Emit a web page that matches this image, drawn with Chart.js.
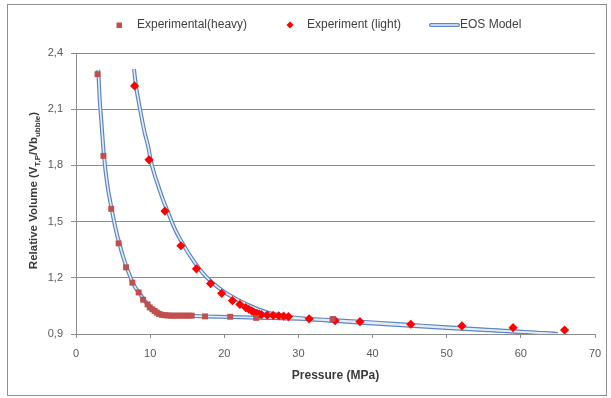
<!DOCTYPE html>
<html>
<head>
<meta charset="utf-8">
<script src="https://cdn.jsdelivr.net/npm/chart.js@4.4.1/dist/chart.umd.min.js"></script>
<style>
  html, body { margin: 0; padding: 0; background: #ffffff; }
  canvas { display: block; }
</style>
</head>
<body>
<canvas id="chart" width="611" height="398"></canvas>
<script>
// Measured relative volume, heavy sample
const heavyPressure = [2.9, 3.7, 4.75, 5.75, 6.75, 7.6, 8.45, 9.05, 9.65, 9.95, 10.3, 10.6, 10.9, 11.2,
  11.6, 12.0, 12.4, 12.8, 13.2, 13.6, 14.0, 14.4, 14.8, 15.2, 15.6, 17.4, 20.8, 24.3, 34.6];
const heavyVolume = [2.287, 1.851, 1.568, 1.384, 1.256, 1.174, 1.122, 1.083, 1.058, 1.042, 1.032, 1.023, 1.014, 1.007,
  1.002, 1.0, 0.999, 0.998, 0.998, 0.998, 0.998, 0.998, 0.998, 0.998, 0.998, 0.994, 0.992, 0.986, 0.980];

// Measured relative volume, light sample
const lightPressure = [7.9, 9.85, 12.0, 14.15, 16.25, 18.15, 19.65, 21.1, 22.1, 22.9, 23.3, 23.7, 24.0, 24.4,
  24.7, 25.0, 25.8, 26.6, 27.35, 28.0, 28.65, 31.45, 34.95, 38.3, 45.15, 52.05, 58.95, 65.9];
const lightVolume = [2.224, 1.830, 1.556, 1.371, 1.248, 1.169, 1.117, 1.078, 1.058, 1.041, 1.032, 1.023, 1.016, 1.010,
  1.006, 1.003, 1.001, 0.999, 0.997, 0.995, 0.993, 0.981, 0.971, 0.966, 0.952, 0.943, 0.934, 0.921];

// EOS model curve, heavy sample
const eosHeavyPressure = [3.0, 3.2, 3.41, 3.77, 4.25, 4.81, 5.3, 5.84, 6.3, 6.83, 7.25, 7.64, 8.05, 8.49, 9.16,
  9.7, 10.3, 11.0, 11.8, 13, 15, 17.5, 20.8, 24.3, 27, 30, 35, 40, 45, 50, 55, 60, 65];
const eosHeavyVolume = [2.31, 2.15, 2.04, 1.851, 1.69, 1.568, 1.47, 1.384, 1.32, 1.256, 1.212, 1.174, 1.145, 1.122, 1.083,
  1.058, 1.035, 1.018, 1.007, 1.0, 0.997, 0.994, 0.991, 0.987, 0.985, 0.982, 0.973, 0.962, 0.949, 0.936, 0.924, 0.912, 0.900];

// EOS model curve, light sample
const eosLightPressure = [7.82, 8.09, 8.5, 8.9, 9.3, 9.75, 10.06, 10.6, 11.1, 11.7, 12.35, 13.4, 14.56, 15.6, 16.6,
  17.6, 18.6, 19.4, 20.2, 21.3, 22.4, 23.5, 24.7, 26.0, 27.5, 29.0, 31, 35, 40, 45, 50, 55, 60, 65];
const eosLightVolume = [2.313, 2.224, 2.13, 2.045, 1.968, 1.899, 1.83, 1.75, 1.69, 1.62, 1.556, 1.455, 1.371, 1.305, 1.250,
  1.204, 1.167, 1.142, 1.119, 1.094, 1.071, 1.050, 1.030, 1.012, 1.0, 0.99, 0.981, 0.969, 0.956, 0.944, 0.932, 0.921, 0.911, 0.900];

const xTickLabels = ['0', '10', '20', '30', '40', '50', '60', '70'];
const yTickLabels = ['0,9', '1,2', '1,5', '1,8', '2,1', '2,4'];
const seriesNames = ['Experimental(heavy)', 'Experiment (light)', 'EOS Model'];

const FONT = "'Liberation Sans', Arial, sans-serif";
const GRID = '#8c8c8c';
const TICK_TEXT = '#595959';
const TITLE_TEXT = '#3a3a3a';
const HEAVY = '#c0504d';
const LIGHT = '#ff0000';
const OUTLINE = '#5b86c3';
const CORE = '#e6edf7';

function pairs(xs, ys) {
  return xs.map((x, i) => ({ x: x, y: ys[i] }));
}

// Frame, legend row and the rotated y-axis title with subscripts
const decorations = {
  id: 'decorations',
  beforeDraw(chart) {
    const ctx = chart.ctx;
    ctx.save();
    ctx.fillStyle = '#ffffff';
    ctx.fillRect(0, 0, chart.width, chart.height);
    ctx.restore();
  },
  afterDraw(chart) {
    const ctx = chart.ctx;
    ctx.save();

    // outer frame
    ctx.strokeStyle = '#8e8e8e';
    ctx.lineWidth = 1;
    ctx.strokeRect(7.5, 4.5, 599, 391);

    // legend
    const ly = 25;
    ctx.font = '12px ' + FONT;
    ctx.textBaseline = 'middle';
    ctx.textAlign = 'left';

    ctx.fillStyle = HEAVY;
    ctx.fillRect(116.5, ly - 2.5, 5.5, 5.5);
    ctx.fillStyle = '#404040';
    ctx.fillText(seriesNames[0], 137, ly);

    ctx.fillStyle = LIGHT;
    ctx.beginPath();
    ctx.moveTo(290, ly - 3.5);
    ctx.lineTo(293.5, ly);
    ctx.lineTo(290, ly + 3.5);
    ctx.lineTo(286.5, ly);
    ctx.closePath();
    ctx.fill();
    ctx.fillStyle = '#404040';
    ctx.fillText(seriesNames[1], 307, ly);

    ctx.lineCap = 'round';
    ctx.strokeStyle = OUTLINE;
    ctx.lineWidth = 4;
    ctx.beginPath();
    ctx.moveTo(431, ly);
    ctx.lineTo(458, ly);
    ctx.stroke();
    ctx.strokeStyle = CORE;
    ctx.lineWidth = 1.6;
    ctx.beginPath();
    ctx.moveTo(431, ly);
    ctx.lineTo(458, ly);
    ctx.stroke();
    ctx.fillText(seriesNames[2], 460, ly);

    // y-axis title: Relative Volume (V_T,P / Vb_ubble)
    const area = chart.chartArea;
    const parts = [
      ['Relative Volume (V', false],
      ['T,P', true],
      ['/Vb', false],
      ['ubble', true],
      [')', false]
    ];
    const mainFont = 'bold 11.5px ' + FONT;
    const subFont = 'bold 8px ' + FONT;
    let total = 0;
    parts.forEach(p => {
      ctx.font = p[1] ? subFont : mainFont;
      total += ctx.measureText(p[0]).width;
    });
    ctx.translate(33, (area.top + area.bottom) / 2 - 3);
    ctx.rotate(-Math.PI / 2);
    ctx.fillStyle = TITLE_TEXT;
    ctx.textBaseline = 'alphabetic';
    let x = -total / 2;
    parts.forEach(p => {
      ctx.font = p[1] ? subFont : mainFont;
      ctx.fillText(p[0], x, p[1] ? 6.5 : 4);
      x += ctx.measureText(p[0]).width;
    });
    ctx.restore();
  }
};

new Chart(document.getElementById('chart'), {
  type: 'scatter',
  data: {
    datasets: [
      {
        label: seriesNames[0],
        data: pairs(heavyPressure, heavyVolume),
        pointStyle: 'rect',
        pointRadius: 4.2,
        pointBackgroundColor: HEAVY,
        pointBorderWidth: 0,
        order: 0
      },
      {
        label: seriesNames[1],
        data: pairs(lightPressure, lightVolume),
        pointStyle: 'rectRot',
        pointRadius: 4.6,
        pointBackgroundColor: LIGHT,
        pointBorderWidth: 0,
        order: 0
      },
      {
        label: seriesNames[2],
        data: pairs(eosHeavyPressure, eosHeavyVolume),
        showLine: true,
        pointRadius: 0,
        borderColor: OUTLINE,
        borderWidth: 4,
        cubicInterpolationMode: 'monotone',
        order: 2
      },
      {
        label: seriesNames[2],
        data: pairs(eosHeavyPressure, eosHeavyVolume),
        showLine: true,
        pointRadius: 0,
        borderColor: CORE,
        borderWidth: 1.6,
        cubicInterpolationMode: 'monotone',
        order: 1
      },
      {
        label: seriesNames[2],
        data: pairs(eosLightPressure, eosLightVolume),
        showLine: true,
        pointRadius: 0,
        borderColor: OUTLINE,
        borderWidth: 4,
        cubicInterpolationMode: 'monotone',
        order: 2
      },
      {
        label: seriesNames[2],
        data: pairs(eosLightPressure, eosLightVolume),
        showLine: true,
        pointRadius: 0,
        borderColor: CORE,
        borderWidth: 1.6,
        cubicInterpolationMode: 'monotone',
        order: 1
      }
    ]
  },
  options: {
    responsive: false,
    animation: false,
    devicePixelRatio: 1,
    layout: { padding: { top: 53, right: 16, bottom: 0, left: 0 } },
    plugins: {
      legend: { display: false },
      tooltip: { enabled: false }
    },
    scales: {
      x: {
        type: 'linear',
        min: 0,
        max: 70,
        afterFit(scale) { scale.height = 64; },
        ticks: {
          stepSize: 10,
          padding: 9,
          color: TICK_TEXT,
          font: { family: FONT, size: 11 },
          callback: (value, index) => xTickLabels[index]
        },
        grid: { display: true, drawOnChartArea: false, drawTicks: true, tickLength: 4, color: GRID },
        border: { display: true, color: GRID },
        title: {
          display: true,
          text: 'Pressure (MPa)',
          color: TITLE_TEXT,
          font: { family: FONT, size: 12, weight: 'bold' },
          padding: { top: 4, bottom: 15 }
        }
      },
      y: {
        type: 'linear',
        min: 0.9,
        max: 2.4,
        afterFit(scale) { scale.width = 76; },
        ticks: {
          stepSize: 0.3,
          padding: 8,
          color: TICK_TEXT,
          font: { family: FONT, size: 11 },
          callback: (value, index) => yTickLabels[index]
        },
        grid: { color: GRID, tickLength: 5 },
        border: { display: true, color: GRID }
      }
    }
  },
  plugins: [decorations]
});
</script>
</body>
</html>
